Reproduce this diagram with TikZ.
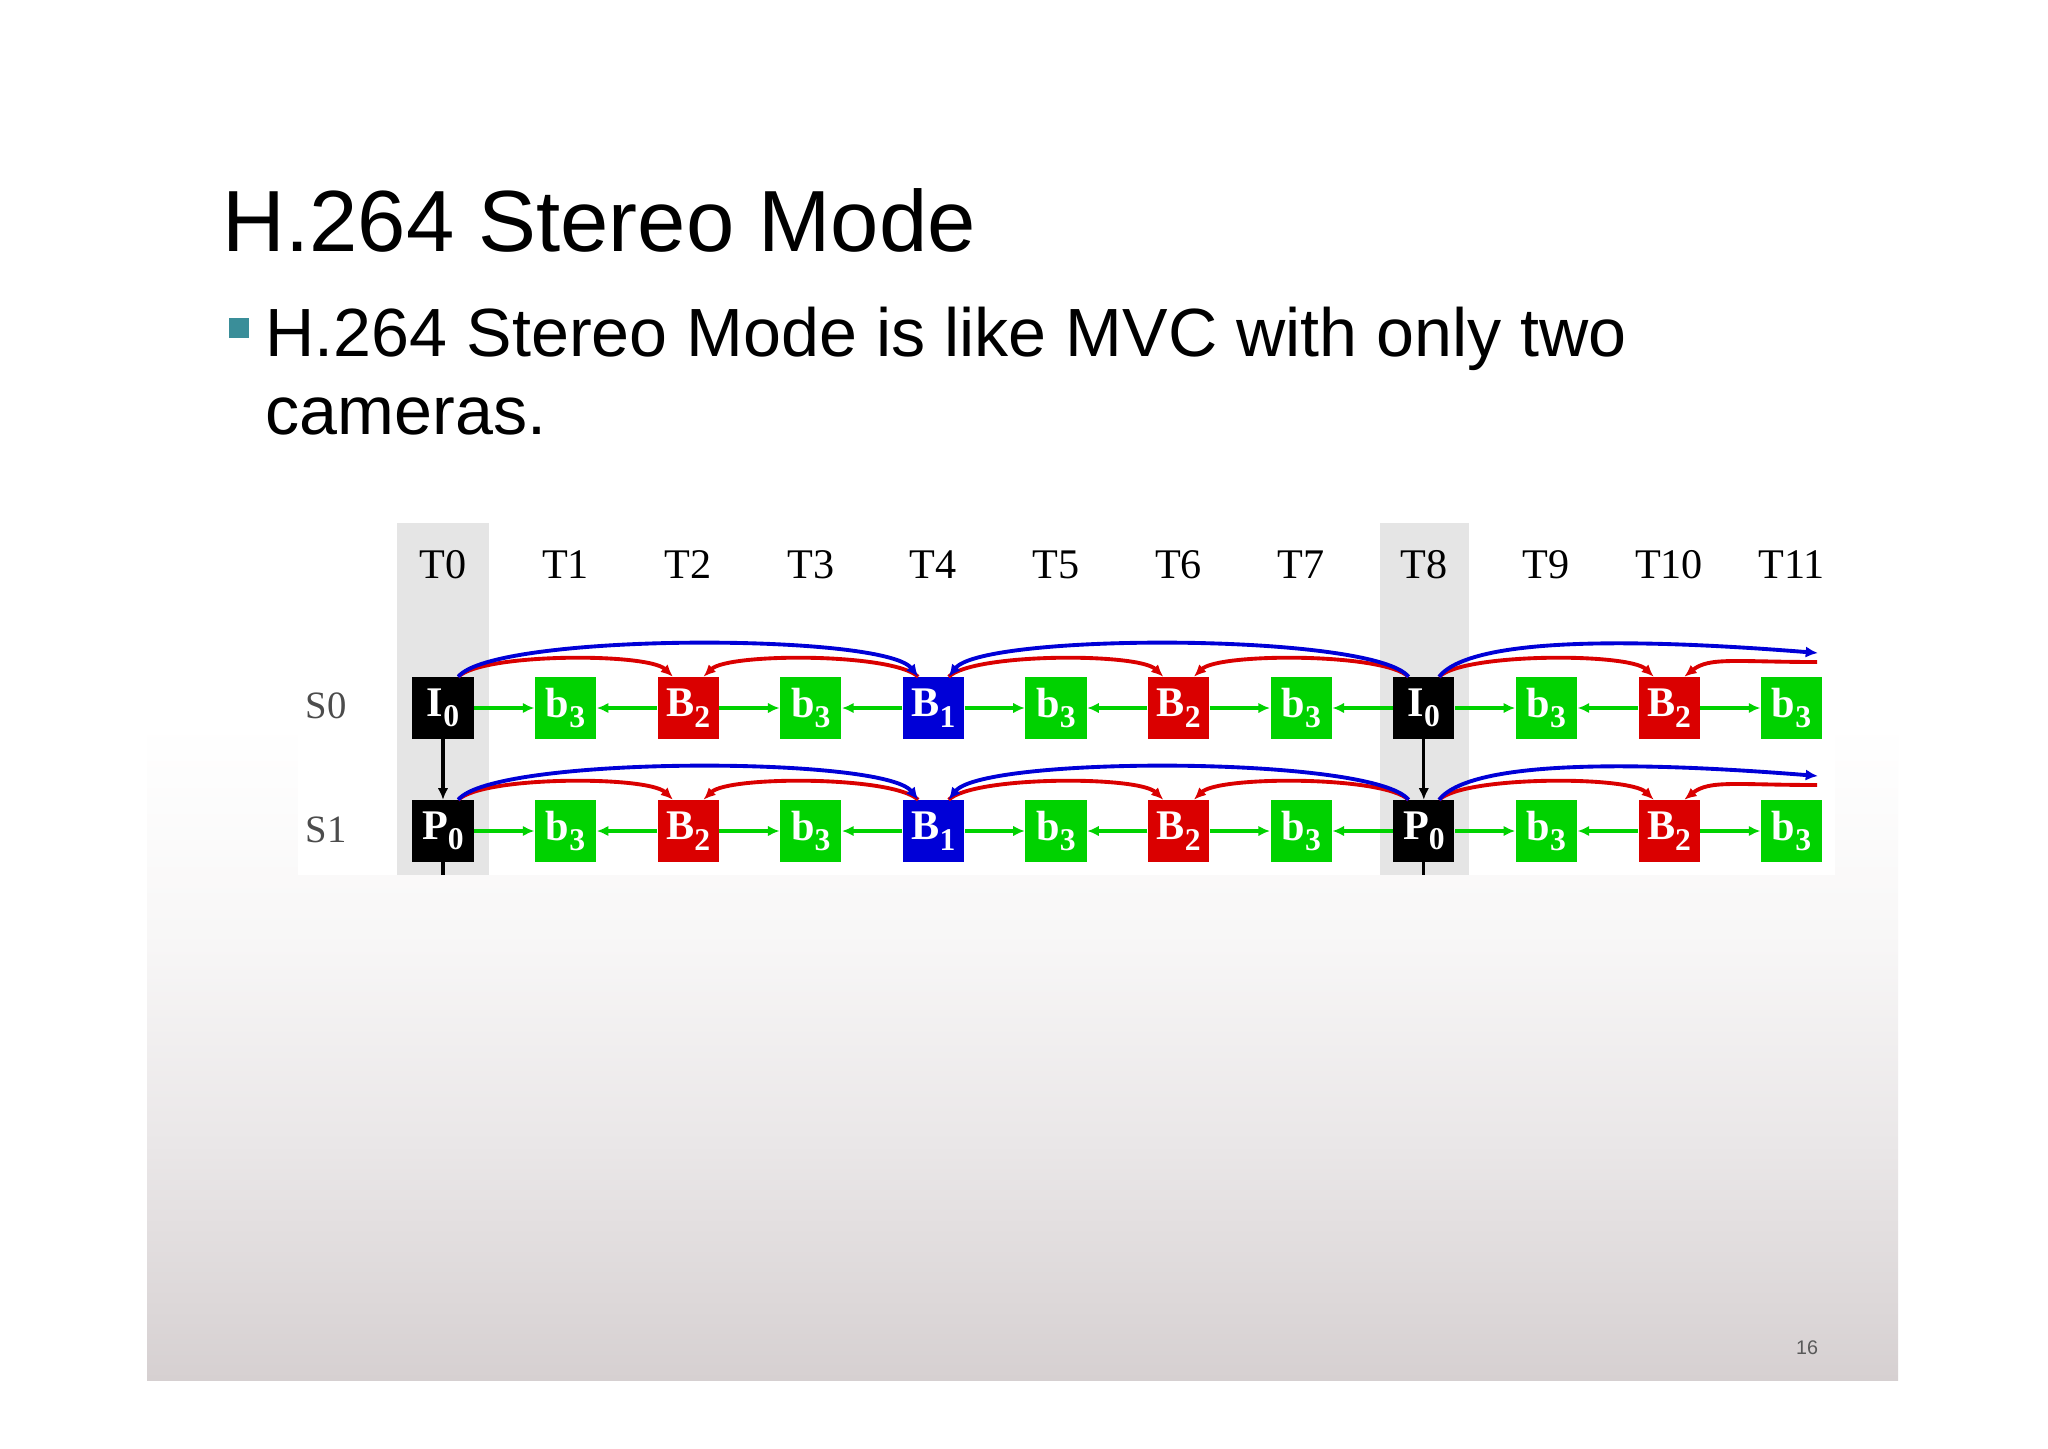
\documentclass[tikz,border=0pt]{standalone}
\usepackage{fontspec}
\setmainfont{Liberation Sans}
\newfontfamily\timesfont{Liberation Serif}
\usetikzlibrary{arrows.meta}

\definecolor{frgreen}{RGB}{0,210,0}
\definecolor{frred}{RGB}{218,0,0}
\definecolor{frblue}{RGB}{0,0,215}
\definecolor{bulletteal}{RGB}{58,142,153}
\definecolor{slidegray}{RGB}{214,208,209}
\definecolor{slidemid}{RGB}{234,231,232}
\definecolor{slidelight}{RGB}{248,247,247}
\definecolor{colgray}{RGB}{229,229,229}

% slide background: white above, grey towards the bottom
\pgfdeclareverticalshading{slidefade}{100bp}{color(0bp)=(slidegray); color(25bp)=(slidegray);
    color(34bp)=(slidemid); color(42bp)=(slidelight); color(50bp)=(white); color(100bp)=(white)}

% letter with its lowered index, as in the frame boxes
\newcommand{\frm}[2]{#1\raisebox{-3pt}{\fontsize{9}{9}\selectfont #2}}

\begin{document}
\begin{tikzpicture}[x=0.01cm, y=-0.01cm, inner sep=0pt,
        vframe/.style = {minimum width=0.61cm, minimum height=0.61cm, text=white,
                         font=\timesfont\bfseries\fontsize{12}{12}\selectfont},
        kframe/.style = {vframe, fill=black},
        bframe/.style = {vframe, fill=frblue},
        rframe/.style = {vframe, fill=frred},
        gframe/.style = {vframe, fill=frgreen},
        timelabel/.style = {font=\timesfont\fontsize{12}{12}\selectfont},
        viewlabel/.style = {font=\timesfont\fontsize{11}{11}\selectfont, text=black!70},
        gref/.style = {frgreen, line width=0.9pt, -{Latex[length=3.3pt,width=3pt]}},
        redarc/.style = {frred, line width=1.1pt, -{Latex[length=3.5pt,width=3pt]}},
        bluearc/.style = {frblue, line width=1.1pt, -{Latex[length=3.5pt,width=3.2pt]}},
        viewref/.style = {black, line width=0.9pt, -{Latex[length=3.3pt,width=3pt]}}
        ]
        % slide
        \fill[white] (0,0) rectangle (2048,1448);
        \shade[shading=slidefade] (147,63) rectangle (1898,1380);

        \node[anchor=base west, font=\fontsize{24.7}{30}\selectfont] (title) at (222,251) {H.264 Stereo Mode};
        \node[fill=bulletteal, minimum size=0.2cm] (dot) at (239,328) {};
        \node[anchor=base west, font=\fontsize{19.4}{23}\selectfont] (point) at (265,356) {H.264 Stereo Mode is like MVC with only two};
        \node[anchor=base west, font=\fontsize{19.4}{23}\selectfont] (pointrest) at (265,434) {cameras.};
        \node[font=\fontsize{5.6}{6}\selectfont, text=black!65] (pageno) at (1807,1348) {16};

        % prediction structure panel
        \fill[white] (298,523) rectangle (1835,875);
        \fill[colgray] (397,523) rectangle (489,875);
        \fill[colgray] (1380,523) rectangle (1469,875);

        \node[timelabel] (time0) at (443,565) {T0};
        \node[timelabel] (time1) at (565.6,565) {T1};
        \node[timelabel] (time2) at (688.2,565) {T2};
        \node[timelabel] (time3) at (810.8,565) {T3};
        \node[timelabel] (time4) at (933.4,565) {T4};
        \node[timelabel] (time5) at (1056,565) {T5};
        \node[timelabel] (time6) at (1178.6,565) {T6};
        \node[timelabel] (time7) at (1301.2,565) {T7};
        \node[timelabel] (time8) at (1423.8,565) {T8};
        \node[timelabel] (time9) at (1546.4,565) {T9};
        \node[timelabel] (time10) at (1669,565) {T10};
        \node[timelabel] (time11) at (1791.6,565) {T11};

        \node[viewlabel] (view0) at (326,706) {S0};
        \node[viewlabel] (view1) at (326,830) {S1};

        % view S0
        \node[kframe] (s0t0) at (443,708) {\frm{I}{0}};
        \node[gframe] (s0t1) at (565.6,708) {\frm{b}{3}};
        \node[rframe] (s0t2) at (688.2,708) {\frm{B}{2}};
        \node[gframe] (s0t3) at (810.8,708) {\frm{b}{3}};
        \node[bframe] (s0t4) at (933.4,708) {\frm{B}{1}};
        \node[gframe] (s0t5) at (1056,708) {\frm{b}{3}};
        \node[rframe] (s0t6) at (1178.6,708) {\frm{B}{2}};
        \node[gframe] (s0t7) at (1301.2,708) {\frm{b}{3}};
        \node[kframe] (s0t8) at (1423.8,708) {\frm{I}{0}};
        \node[gframe] (s0t9) at (1546.4,708) {\frm{b}{3}};
        \node[rframe] (s0t10) at (1669,708) {\frm{B}{2}};
        \node[gframe] (s0t11) at (1791.6,708) {\frm{b}{3}};

        % view S1
        \node[kframe] (s1t0) at (443,831) {\frm{P}{0}};
        \node[gframe] (s1t1) at (565.6,831) {\frm{b}{3}};
        \node[rframe] (s1t2) at (688.2,831) {\frm{B}{2}};
        \node[gframe] (s1t3) at (810.8,831) {\frm{b}{3}};
        \node[bframe] (s1t4) at (933.4,831) {\frm{B}{1}};
        \node[gframe] (s1t5) at (1056,831) {\frm{b}{3}};
        \node[rframe] (s1t6) at (1178.6,831) {\frm{B}{2}};
        \node[gframe] (s1t7) at (1301.2,831) {\frm{b}{3}};
        \node[kframe] (s1t8) at (1423.8,831) {\frm{P}{0}};
        \node[gframe] (s1t9) at (1546.4,831) {\frm{b}{3}};
        \node[rframe] (s1t10) at (1669,831) {\frm{B}{2}};
        \node[gframe] (s1t11) at (1791.6,831) {\frm{b}{3}};

        \coordinate (s0out) at (1818,653);
        \coordinate (s0in) at (1817,662);
        \coordinate (s1out) at (1818,776);
        \coordinate (s1in) at (1817,785);
        \coordinate (tail0) at (443,875);
        \coordinate (tail8) at (1423.8,875);

        % b3 references
        \path[gref] (s0t0) edge (s0t1) (s0t2) edge (s0t1) edge (s0t3) (s0t4) edge (s0t3) edge (s0t5)
            (s0t6) edge (s0t5) edge (s0t7) (s0t8) edge (s0t7) edge (s0t9) (s0t10) edge (s0t9) edge (s0t11);
        \path[gref] (s1t0) edge (s1t1) (s1t2) edge (s1t1) edge (s1t3) (s1t4) edge (s1t3) edge (s1t5)
            (s1t6) edge (s1t5) edge (s1t7) (s1t8) edge (s1t7) edge (s1t9) (s1t10) edge (s1t9) edge (s1t11);

        % B2 references
        \draw[redarc] (s0t0.64) .. controls +(25,-24) and +(-25,-24) .. (s0t2.116);
        \draw[redarc] (s0t4.116) .. controls +(-25,-24) and +(25,-24) .. (s0t2.64);
        \draw[redarc] (s0t4.64) .. controls +(25,-24) and +(-25,-24) .. (s0t6.116);
        \draw[redarc] (s0t8.116) .. controls +(-25,-24) and +(25,-24) .. (s0t6.64);
        \draw[redarc] (s0t8.64) .. controls +(25,-24) and +(-25,-24) .. (s0t10.116);
        \draw[redarc] (s0in) .. controls +(-80,0) and +(25,-20) .. (s0t10.64);
        \draw[redarc] (s1t0.64) .. controls +(25,-24) and +(-25,-24) .. (s1t2.116);
        \draw[redarc] (s1t4.116) .. controls +(-25,-24) and +(25,-24) .. (s1t2.64);
        \draw[redarc] (s1t4.64) .. controls +(25,-24) and +(-25,-24) .. (s1t6.116);
        \draw[redarc] (s1t8.116) .. controls +(-25,-24) and +(25,-24) .. (s1t6.64);
        \draw[redarc] (s1t8.64) .. controls +(25,-24) and +(-25,-24) .. (s1t10.116);
        \draw[redarc] (s1in) .. controls +(-80,0) and +(25,-20) .. (s1t10.64);

        % B1 references
        \draw[bluearc] (s0t0.64) .. controls +(35,-44) and +(-35,-44) .. (s0t4.116);
        \draw[bluearc] (s0t8.116) .. controls +(-35,-44) and +(35,-44) .. (s0t4.64);
        \draw[bluearc] (s0t8.64) .. controls +(35,-44) and +(-150,-12) .. (s0out);
        \draw[bluearc] (s1t0.64) .. controls +(35,-44) and +(-35,-44) .. (s1t4.116);
        \draw[bluearc] (s1t8.116) .. controls +(-35,-44) and +(35,-44) .. (s1t4.64);
        \draw[bluearc] (s1t8.64) .. controls +(35,-44) and +(-150,-12) .. (s1out);

        % inter-view
        \draw[viewref] (s0t0) -- (s1t0);
        \draw[viewref] (s0t8) -- (s1t8);
        \draw[black, line width=0.9pt] (s1t0) -- (tail0);
        \draw[black, line width=0.9pt] (s1t8) -- (tail8);
    \end{tikzpicture}
\end{document}
